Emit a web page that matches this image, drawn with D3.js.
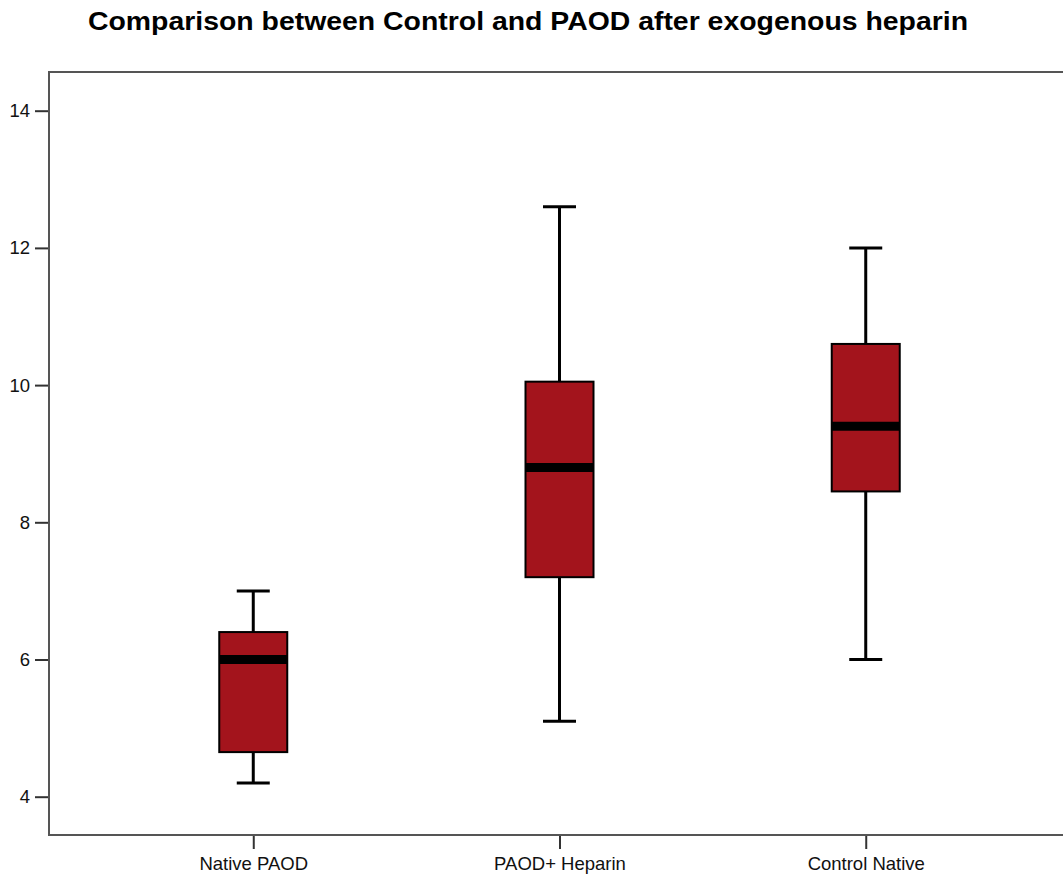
<!DOCTYPE html>
<html>
<head>
<meta charset="utf-8">
<script src="https://cdn.jsdelivr.net/npm/d3@7"></script>
<style>
  body { margin: 0; background: #fff; }
  text { font-family: "Liberation Sans", Arial, sans-serif; }
</style>
</head>
<body>
<svg id="chart"></svg>
<script>
// 数据
const groups = ["Native PAOD", "PAOD+ Heparin", "Control Native"];
const whiskerLow = [4.2, 5.1, 6.0];
const q1 = [4.65, 7.2, 8.45];
const median = [6.0, 8.8, 9.4];
const q3 = [6.4, 10.05, 10.6];
const whiskerHigh = [7.0, 12.6, 12.0];
const yTicks = [4, 6, 8, 10, 12, 14];

const width = 1063, height = 875;
const plotLeft = 49, plotRight = 1070, plotTop = 72, plotBottom = 835;

const svg = d3.select("#chart").attr("width", width).attr("height", height);

const boxes = groups.map((g, i) => ({
  name: g, lo: whiskerLow[i], q1: q1[i], med: median[i], q3: q3[i], hi: whiskerHigh[i]
}));

// 比例尺
const x = d3.scalePoint().domain(groups).range([plotLeft, plotRight]).padding(0.667);
const y = d3.scaleLinear().domain([4, 14]).range([796.7, 110.7]);

// 标题
svg.append("text")
  .attr("x", 528).attr("y", 30)
  .attr("text-anchor", "middle")
  .attr("textLength", 880).attr("lengthAdjust", "spacingAndGlyphs")
  .style("font-size", "25px").style("font-weight", "bold")
  .text("Comparison between Control and PAOD after exogenous heparin");

// 坐标轴
const yAxis = svg.append("g")
  .attr("transform", `translate(${plotLeft},0)`)
  .call(d3.axisLeft(y).tickValues(yTicks).tickSize(14).tickPadding(5));
const xAxis = svg.append("g")
  .attr("transform", `translate(0,${plotBottom})`)
  .call(d3.axisBottom(x).tickSize(14).tickPadding(8));
[yAxis, xAxis].forEach(a => {
  a.select(".domain").remove();
  a.selectAll(".tick line").attr("stroke", "#333").attr("stroke-width", 2);
  a.selectAll(".tick text").attr("fill", "#111").style("font-size", "18.5px")
    .style("font-family", "'Liberation Sans', Arial, sans-serif");
});

// 边框
svg.append("rect")
  .attr("x", plotLeft).attr("y", plotTop)
  .attr("width", plotRight - plotLeft).attr("height", plotBottom - plotTop)
  .attr("fill", "none").attr("stroke", "#555").attr("stroke-width", 2);

const boxW = 68, capW = 33;
const g = svg.append("g");

// 须线
g.selectAll(".whisker").data(boxes).enter().append("line")
  .attr("x1", d => x(d.name)).attr("x2", d => x(d.name))
  .attr("y1", d => y(d.lo)).attr("y2", d => y(d.hi))
  .attr("stroke", "#000").attr("stroke-width", 3);

g.selectAll(".cap-hi").data(boxes).enter().append("line")
  .attr("x1", d => x(d.name) - capW / 2).attr("x2", d => x(d.name) + capW / 2)
  .attr("y1", d => y(d.hi)).attr("y2", d => y(d.hi))
  .attr("stroke", "#000").attr("stroke-width", 3);

g.selectAll(".cap-lo").data(boxes).enter().append("line")
  .attr("x1", d => x(d.name) - capW / 2).attr("x2", d => x(d.name) + capW / 2)
  .attr("y1", d => y(d.lo)).attr("y2", d => y(d.lo))
  .attr("stroke", "#000").attr("stroke-width", 3);

// 箱体
g.selectAll(".box").data(boxes).enter().append("rect")
  .attr("x", d => x(d.name) - boxW / 2)
  .attr("y", d => y(d.q3))
  .attr("width", boxW)
  .attr("height", d => y(d.q1) - y(d.q3))
  .attr("fill", "#a3141c").attr("stroke", "#000").attr("stroke-width", 2);

// 中位数
g.selectAll(".median").data(boxes).enter().append("line")
  .attr("x1", d => x(d.name) - boxW / 2).attr("x2", d => x(d.name) + boxW / 2)
  .attr("y1", d => y(d.med)).attr("y2", d => y(d.med))
  .attr("stroke", "#000").attr("stroke-width", 9);
</script>
</body>
</html>
